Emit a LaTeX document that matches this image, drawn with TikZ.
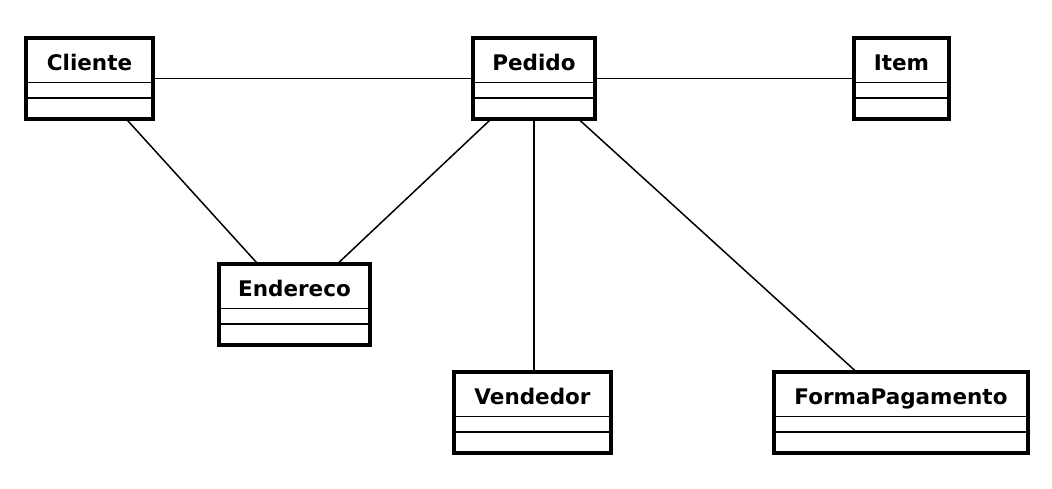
\documentclass[tikz,border=0pt]{standalone}
\usepackage{fontspec}
\setmainfont{DejaVu Sans}
\tikzset{
  classbox/.style={draw, line width=3.5pt, rectangle, inner sep=0pt, outer sep=0pt, minimum height=81pt, fill=white},
  classname/.style={font=\fontsize{21.5}{26}\selectfont\bfseries, anchor=base, inner sep=0pt},
  compline/.style={line width=1.4pt},
  assoc/.style={line width=1.5pt},
}
\newcommand\umlclass[5]{%
  \node[classbox, minimum width=#4pt] (#1) at (#2,#3) {};
  \node[classname] (#1-label) at ([yshift=-32pt]#1.north) {#5};
  \draw[compline] ([yshift=-44.5pt]#1.north west) -- ([yshift=-44.5pt]#1.north east);
  \draw[compline] ([yshift=-60pt]#1.north west) -- ([yshift=-60pt]#1.north east);
}
\begin{document}
\begin{tikzpicture}[x=1pt, y=-1pt]
  \useasboundingbox (0,0) rectangle (1052,488);
  \umlclass{cliente}{89.5}{78.5}{127}{Cliente}
  \umlclass{pedido}{534}{78.5}{122}{Pedido}
  \umlclass{item}{901.5}{78.5}{95}{Item}
  \umlclass{endereco}{294.5}{304.5}{151}{Endereco}
  \umlclass{vendedor}{532.5}{412.5}{157}{Vendedor}
  \umlclass{forma}{901}{412.5}{254}{FormaPagamento}
  \draw[assoc] (cliente) -- (pedido);
  \draw[assoc] (pedido) -- (item);
  \draw[assoc] (cliente) -- (endereco);
  \draw[assoc] (pedido) -- (endereco);
  \draw[assoc] (pedido) -- (pedido |- vendedor.north);
  \draw[assoc] (pedido) -- (forma);
\end{tikzpicture}
\end{document}
